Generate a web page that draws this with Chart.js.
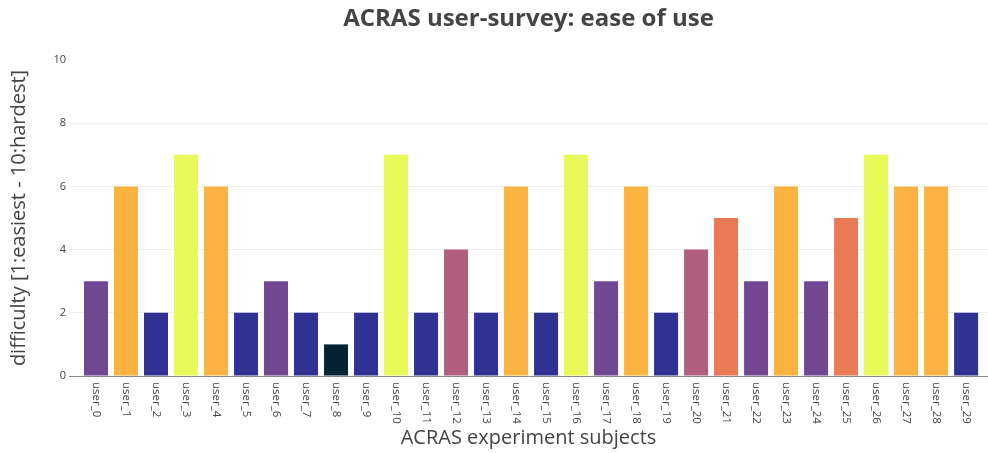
<!DOCTYPE html>
<html>
<head>
<meta charset="utf-8">
<script src="https://cdn.jsdelivr.net/npm/chart.js@4/dist/chart.umd.min.js"></script>
<style>
  html, body { margin: 0; padding: 0; background: #fff; }
  #c { display: block; }
</style>
</head>
<body>
<canvas id="c" width="988" height="453"></canvas>
<script>
const titleText = "ACRAS user-survey: ease of use";
const xTitle = "ACRAS experiment subjects";
const yTitle = "difficulty [1:easiest - 10:hardest]";
const categories = ["user_0","user_1","user_2","user_3","user_4","user_5","user_6","user_7","user_8","user_9",
  "user_10","user_11","user_12","user_13","user_14","user_15","user_16","user_17","user_18","user_19",
  "user_20","user_21","user_22","user_23","user_24","user_25","user_26","user_27","user_28","user_29"];
const difficulty = [3,6,2,7,6,2,3,2,1,2, 7,2,4,2,6,2,7,3,6,2, 4,5,3,6,3,5,7,6,6,2];
const yTickValues = [0,2,4,6,8,10];
// colour for each difficulty level (thermal colourscale, 1..7)
const levelColors = {
  1: "rgb(3,35,51)",
  2: "rgb(47,50,147)",
  3: "rgb(113,71,146)",
  4: "rgb(177,95,127)",
  5: "rgb(234,122,86)",
  6: "rgb(250,179,64)",
  7: "rgb(231,250,90)"
};

const FONT = "'Open Sans', 'Noto Sans', sans-serif";

const overlay = {
  id: "overlay",
  afterDraw(chart) {
    const ctx = chart.ctx;
    const area = chart.chartArea;
    const xs = chart.scales.x;
    ctx.save();
    // title
    ctx.fillStyle = "#444";
    ctx.font = "bold 24px " + FONT;
    ctx.textAlign = "center";
    ctx.textBaseline = "middle";
    ctx.fillText(titleText, (area.left + area.right) / 2, 19);
    // x tick labels, rotated 90deg clockwise
    ctx.font = "11.5px " + FONT;
    ctx.textAlign = "left";
    ctx.textBaseline = "middle";
    categories.forEach((lab, i) => {
      const x = xs.getPixelForValue(i);
      ctx.save();
      ctx.translate(x, area.bottom + 6);
      ctx.rotate(Math.PI / 2);
      ctx.fillText(lab, 0, 0);
      ctx.restore();
    });
    ctx.restore();
  }
};

new Chart(document.getElementById("c"), {
  type: "bar",
  data: {
    datasets: [{
      data: difficulty.map((v, i) => ({ x: i, y: v })),
      backgroundColor: difficulty.map(v => levelColors[v]),
      borderWidth: 0,
      barPercentage: 0.8,
      categoryPercentage: 1.0
    }]
  },
  options: {
    responsive: false,
    devicePixelRatio: 1,
    animation: false,
    layout: { padding: { top: 60, left: 0, right: 0, bottom: 0 } },
    plugins: {
      legend: { display: false },
      title: { display: false },
      tooltip: { enabled: false }
    },
    scales: {
      x: {
        type: "linear",
        offset: false,
        bounds: "data",
        min: -0.9,
        max: 29.73,
        grid: { display: false },
        border: { display: false },
        ticks: { display: false },
        afterFit(scale) { scale.height = 77; },
        title: {
          display: true,
          text: xTitle,
          color: "#444",
          font: { family: FONT, size: 20 },
          padding: { top: 0, bottom: 3 }
        }
      },
      y: {
        min: 0,
        max: 10,
        afterBuildTicks(scale) { scale.ticks = yTickValues.map(v => ({ value: v })); },
        grid: {
          color: ctx => ctx.tick && ctx.tick.value === 0 ? "#8a8a8a" : (ctx.tick && ctx.tick.value === 10 ? "rgba(0,0,0,0)" : "#eeeeee"),
          drawTicks: false,
          lineWidth: 1
        },
        border: { display: false },
        ticks: {
          color: "#444",
          font: { family: FONT, size: 11 },
          padding: 3
        },
        afterFit(scale) { scale.width = 69; },
        title: {
          display: true,
          text: yTitle,
          color: "#444",
          font: { family: FONT, size: 20 },
          padding: { top: 7, bottom: 0 }
        }
      }
    }
  },
  plugins: [overlay]
});
</script>
</body>
</html>
